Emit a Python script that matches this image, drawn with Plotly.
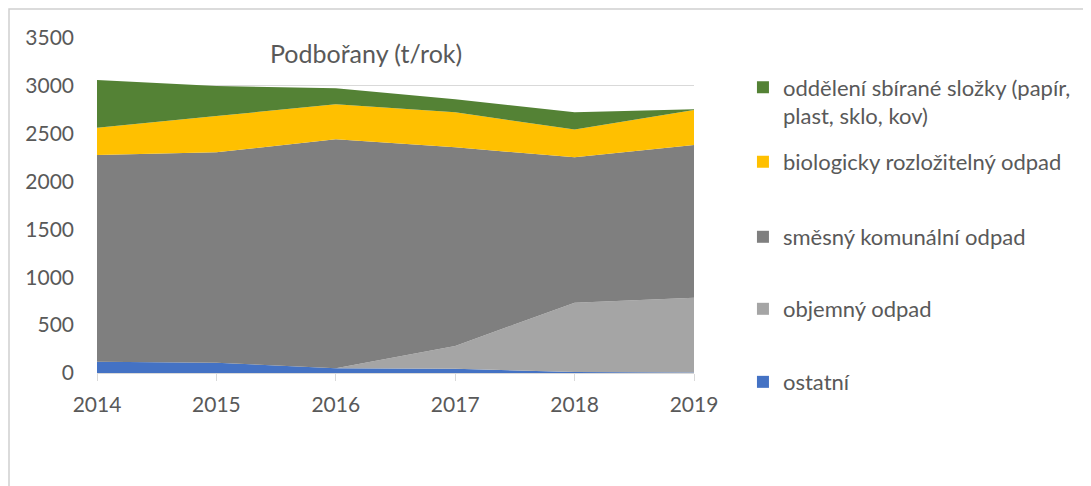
import plotly.graph_objects as go

years = [2014, 2015, 2016, 2017, 2018, 2019]
ostatni = [118, 108, 49, 45, 10, 5]
objemny = [0, 0, 0, 237, 725, 782]
smesny = [2160, 2198, 2393, 2076, 1519, 1595]
bio = [285, 379, 365, 366, 289, 366]
oddelene = [498, 314, 168, 136, 181, 7]

y_ticks = [0, 500, 1000, 1500, 2000, 2500, 3000, 3500]

series = [
    ("ostatní", ostatni, "#4472C4"),
    ("objemný odpad", objemny, "#A5A5A5"),
    ("směsný komunální odpad", smesny, "#7F7F7F"),
    ("biologicky rozložitelný odpad", bio, "#FFC000"),
    ("oddělení sbírané složky (papír,<br>plast, sklo, kov)", oddelene, "#548235"),
]

FONT = "Lato"
TXT = "#595959"
GRID = "#D9D9D9"

fig = go.Figure()
for name, vals, col in series:
    fig.add_trace(go.Scatter(
        x=years, y=vals, stackgroup="one", mode="none",
        fillcolor=col, line=dict(width=0), showlegend=False, name=name,
    ))

# legend entries, each in its own legend box for Excel-like spacing
legend_y = {"legend": 0.809, "legend2": 0.630, "legend3": 0.406, "legend4": 0.191, "legend5": -0.027}
order = list(reversed(series))
leg_names = ["legend", "legend2", "legend3", "legend4", "legend5"]
for (name, vals, col), lg in zip(order, leg_names):
    fig.add_trace(go.Scatter(
        x=[None], y=[None], mode="markers", name=name,
        marker=dict(symbol="square", size=12, color=col),
        legend=lg, showlegend=True,
    ))

layout_legends = {}
for lg in leg_names:
    layout_legends[lg] = dict(
        x=1.082, xanchor="left", y=legend_y[lg], yanchor="middle",
        font=dict(family=FONT, size=22, color=TXT), valign="top",
        bgcolor="rgba(0,0,0,0)", borderwidth=0,
    )

# page body has an 8px margin, so the figure starts at (8, 8)
fig.update_layout(
    width=1083, height=478,
    margin=dict(l=89, r=397, t=30, b=113),
    paper_bgcolor="white", plot_bgcolor="white",
    font=dict(family=FONT, size=21, color=TXT),
    **layout_legends,
)

fig.update_xaxes(
    range=[2014, 2019], tickmode="array", tickvals=years, ticktext=[str(y) for y in years],
    showgrid=False, showline=True, linecolor=GRID, linewidth=1,
    ticks="outside", tickcolor=GRID, ticklen=7, ticklabelstandoff=6,
    tickfont=dict(family=FONT, size=21, color=TXT), zeroline=False,
)
fig.update_yaxes(
    range=[0, 3500], tickmode="array", tickvals=y_ticks,
    showgrid=True, gridcolor=GRID, gridwidth=1, zeroline=False,
    showline=False, ticks="", ticklabelstandoff=22,
    tickfont=dict(family=FONT, size=21, color=TXT),
)

fig.add_annotation(
    text="Podbořany (t/rok)", xref="paper", yref="paper",
    x=0.451, y=0.955, xanchor="center", yanchor="middle", showarrow=False,
    font=dict(family=FONT, size=25, color=TXT),
)

# outer chart border (left and top edges visible)
fig.add_shape(
    type="rect", xref="paper", yref="paper",
    x0=-0.1474, y0=-0.40, x1=1.70, y1=1.0866,
    line=dict(color="#D0D0D0", width=1.5), fillcolor="rgba(0,0,0,0)", layer="below",
)

fig.write_html("out.html")
